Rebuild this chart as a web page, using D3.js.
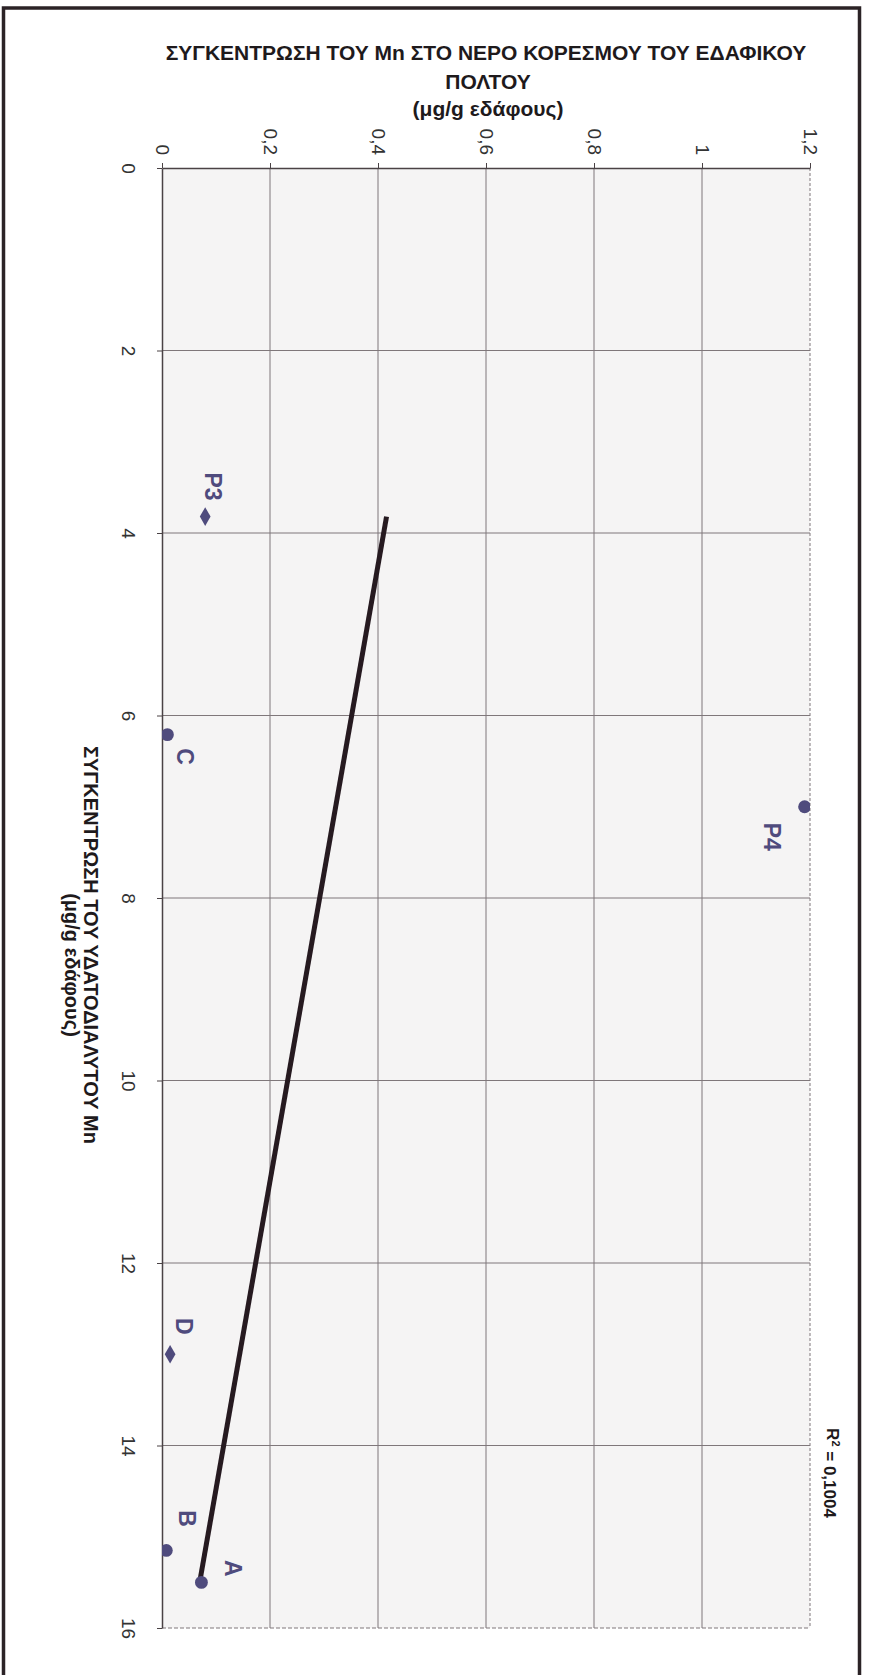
<!DOCTYPE html>
<html>
<head>
<meta charset="utf-8">
<script src="https://cdn.jsdelivr.net/npm/d3@7"></script>
<style>
  body { margin: 0; background: #fff; }
  svg { display: block; }
  text { font-family: "Liberation Sans", Arial, sans-serif; }
</style>
</head>
<body>
<div id="chart"></div>
<script>
const pointNames = ["P3", "C", "P4", "D", "B", "A"];
const waterSolubleMn = [3.82, 6.21, 7.0, 13.0, 15.15, 15.5];     // runs down the page
const saturationMn = [0.08, 0.01, 1.19, 0.015, 0.008, 0.073];    // runs across the page
const markerShapes = ["diamond", "circle", "circle", "diamond", "circle", "circle"];

const xTicks = [0, 2, 4, 6, 8, 10, 12, 14, 16];
const yTicks = [0, 0.2, 0.4, 0.6, 0.8, 1, 1.2];

const titleLines = ["ΣΥΓΚΕΝΤΡΩΣΗ ΤΟΥ Mn ΣΤΟ ΝΕΡΟ ΚΟΡΕΣΜΟΥ ΤΟΥ ΕΔΑΦΙΚΟΥ", "ΠΟΛΤΟΥ", "(μg/g εδάφους)"];
const axisTitleLines = ["ΣΥΓΚΕΝΤΡΩΣΗ ΤΟΥ ΥΔΑΤΟΔΙΑΛΥΤΟΥ Mn", "(μg/g εδάφους)"];
const rSquaredText = "0,1004";

// label placement next to each marker (screen px)
const labelOffsets = { P3: [8, -30], C: [18, 22], P4: [-33, 30], D: [14, -28], B: [21, -32], A: [32, -14] };

const width = 870, height = 1675;
const plot = { left: 162, right: 810, top: 168, bottom: 1628 };
const markColor = "#4f4b7d";

const svg = d3.select("#chart").append("svg")
  .attr("width", width)
  .attr("height", height);

// chart is turned a quarter clockwise: x runs downward, y runs to the right
const x = d3.scaleLinear().domain([0, 16]).range([plot.top, plot.bottom]);
const y = d3.scaleLinear().domain([0, 1.2]).range([plot.left, plot.right]);

const comma = d3.formatLocale({ decimal: ",", thousands: ".", grouping: [3], currency: ["", ""] }).format("~g");

// frame
svg.append("rect")
  .attr("x", 3.5).attr("y", 8)
  .attr("width", 856).attr("height", 1720)
  .attr("fill", "none")
  .attr("stroke", "#2b2326")
  .attr("stroke-width", 3.5);

// plot background
svg.append("rect")
  .attr("x", plot.left).attr("y", plot.top)
  .attr("width", plot.right - plot.left).attr("height", plot.bottom - plot.top)
  .attr("fill", "#f5f4f4");

// grid
svg.append("g")
  .selectAll("line")
  .data(yTicks.slice(1))
  .join("line")
  .attr("x1", d => y(d)).attr("x2", d => y(d))
  .attr("y1", plot.top).attr("y2", plot.bottom)
  .attr("stroke", "#7f777a")
  .attr("stroke-width", 1)
  .attr("stroke-dasharray", d => d === 1.2 ? "3,2" : null);

svg.append("g")
  .selectAll("line")
  .data(xTicks.slice(1))
  .join("line")
  .attr("x1", plot.left).attr("x2", plot.right)
  .attr("y1", d => x(d)).attr("y2", d => x(d))
  .attr("stroke", "#7f777a")
  .attr("stroke-width", 1)
  .attr("stroke-dasharray", d => d === 16 ? "4,2" : null);

// axes
const leftAxis = svg.append("g")
  .attr("transform", `translate(${plot.left},0)`)
  .call(d3.axisLeft(x).tickValues(xTicks).tickSize(5).tickSizeOuter(0).tickFormat(comma));

leftAxis.selectAll("text")
  .attr("x", 0)
  .attr("dy", "0.35em")
  .attr("text-anchor", "middle")
  .attr("transform", "translate(-33,0) rotate(90)");

const topAxis = svg.append("g")
  .attr("transform", `translate(0,${plot.top})`)
  .call(d3.axisTop(y).tickValues(yTicks).tickSize(5).tickSizeOuter(0).tickFormat(comma));

topAxis.selectAll("text")
  .attr("y", 0)
  .attr("dy", "0.35em")
  .attr("text-anchor", "end")
  .attr("transform", "translate(0,-13) rotate(90)");

[leftAxis, topAxis].forEach(a => {
  a.select(".domain").attr("stroke", "#4a4245").attr("stroke-width", 1.5);
  a.selectAll(".tick line").attr("stroke", "#4a4245");
  a.selectAll(".tick text")
    .attr("font-size", 19)
    .attr("font-family", "Liberation Sans, Arial, sans-serif")
    .attr("fill", "#333");
});

// trend line (least squares through the points)
const mx = d3.mean(waterSolubleMn), my = d3.mean(saturationMn);
const sxy = d3.sum(waterSolubleMn, (v, i) => (v - mx) * (saturationMn[i] - my));
const sxx = d3.sum(waterSolubleMn, v => (v - mx) ** 2);
const slope = sxy / sxx, intercept = my - slope * mx;
const xExtent = d3.extent(waterSolubleMn);

svg.append("line")
  .attr("x1", y(intercept + slope * xExtent[0])).attr("y1", x(xExtent[0]))
  .attr("x2", y(intercept + slope * xExtent[1])).attr("y2", x(xExtent[1]))
  .attr("stroke", "#261a20")
  .attr("stroke-width", 5);

// markers, clipped to the plot area
svg.append("clipPath").attr("id", "plot-clip")
  .append("rect")
  .attr("x", plot.left).attr("y", plot.top)
  .attr("width", plot.right - plot.left).attr("height", plot.bottom - plot.top);

const points = pointNames.map((name, i) => ({ name, xv: waterSolubleMn[i], yv: saturationMn[i], shape: markerShapes[i] }));

svg.append("g")
  .attr("clip-path", "url(#plot-clip)")
  .selectAll("path")
  .data(points)
  .join("path")
  .attr("transform", d => `translate(${y(d.yv)},${x(d.xv)})`)
  .attr("d", d => d3.symbol(d.shape === "diamond" ? d3.symbolDiamond : d3.symbolCircle, d.shape === "diamond" ? 100 : 130)())
  .attr("fill", markColor);

svg.append("g")
  .selectAll("text")
  .data(points)
  .join("text")
  .attr("transform", d => `translate(${y(d.yv) + labelOffsets[d.name][0]},${x(d.xv) + labelOffsets[d.name][1]}) rotate(90)`)
  .attr("text-anchor", "middle")
  .attr("dy", "0.35em")
  .attr("font-size", 23)
  .attr("font-weight", "bold")
  .attr("fill", markColor)
  .text(d => d.name);

// R² label
const r2 = svg.append("text")
  .attr("transform", "translate(833,1473) rotate(90)")
  .attr("text-anchor", "middle")
  .attr("dy", "0.35em")
  .attr("font-size", 17)
  .attr("font-weight", "bold")
  .attr("fill", "#1e1a1c");
r2.append("tspan").text("R");
r2.append("tspan").attr("dy", "-0.45em").attr("font-size", 11).text("2");
r2.append("tspan").attr("dy", "0.45em").text(" = " + rSquaredText);

// title across the top
svg.append("g")
  .selectAll("text")
  .data(titleLines)
  .join("text")
  .attr("x", (d, i) => i === 0 ? 486 : 488)
  .attr("y", (d, i) => [60, 89, 116][i])
  .attr("text-anchor", "middle")
  .attr("font-size", 21)
  .attr("font-weight", "bold")
  .attr("fill", "#1e1a1c")
  .text(d => d);

// axis title along the left side
svg.append("g")
  .selectAll("text")
  .data(axisTitleLines)
  .join("text")
  .attr("transform", (d, i) => `translate(${[91, 72][i]},${[945, 965][i]}) rotate(90)`)
  .attr("text-anchor", "middle")
  .attr("dy", "0.35em")
  .attr("font-size", 20)
  .attr("font-weight", "bold")
  .attr("fill", "#1e1a1c")
  .text(d => d);
</script>
</body>
</html>
